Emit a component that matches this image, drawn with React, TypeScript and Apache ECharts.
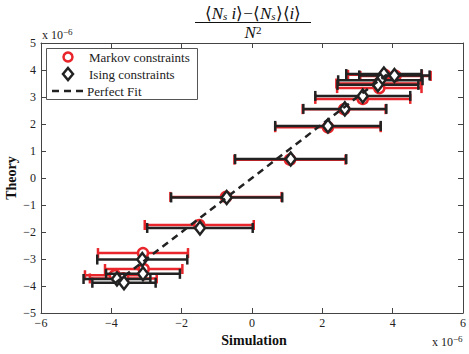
import React, { useEffect, useRef } from "react";
import * as echarts from "echarts";

const markovX = [3.78, 4.08, 3.6, 3.62, 3.15, 2.62, 2.16, 1.08, -0.74, -1.5, -3.1, -3.08, -3.9, -3.66];
const markovY = [3.82, 3.78, 3.5, 3.33, 2.93, 2.55, 1.88, 0.68, -0.7, -1.74, -2.78, -3.37, -3.6, -3.72];
const markovErr = [1.05, 1.0, 1.2, 1.2, 1.35, 1.18, 1.5, 1.58, 1.58, 1.55, 1.28, 1.1, 0.85, 0.95];

const isingX = [3.75, 4.05, 3.65, 3.58, 3.15, 2.64, 2.16, 1.1, -0.72, -1.48, -3.12, -3.1, -3.84, -3.64];
const isingY = [3.85, 3.8, 3.62, 3.45, 3.04, 2.56, 1.93, 0.7, -0.72, -1.85, -3.02, -3.55, -3.74, -3.88];
const isingErr = [1.07, 1.0, 1.2, 1.15, 1.35, 1.18, 1.5, 1.58, 1.58, 1.5, 1.28, 1.05, 0.95, 0.9];

const fitX = [-3.9, 3.9];
const fitY = [-3.9, 3.9];

const RED = "#e8262b";
const BLACK = "#222222";
const FONT = "Liberation Serif";

function errRender(color: string) {
  return (params: any, api: any) => {
    const x = api.value(0);
    const y = api.value(1);
    const e = api.value(2);
    const p1 = api.coord([x - e, y]);
    const p2 = api.coord([x + e, y]);
    const h = 5;
    const st = { stroke: color, lineWidth: 2.5 };
    return {
      type: "group",
      children: [
        { type: "line", shape: { x1: p1[0], y1: p1[1], x2: p2[0], y2: p2[1] }, style: st },
        { type: "line", shape: { x1: p1[0], y1: p1[1] - h, x2: p1[0], y2: p1[1] + h }, style: st },
        { type: "line", shape: { x1: p2[0], y1: p2[1] - h, x2: p2[0], y2: p2[1] + h }, style: st },
      ],
    };
  };
}

const fmt = (v: number) => String(v).replace("-", "\u2212");

export default function App() {
  const ref = useRef<HTMLDivElement>(null);
  useEffect(() => {
    if (!ref.current) return;
    const chart = echarts.init(ref.current, undefined, { renderer: "svg" });
    const markovData = markovX.map((x, i) => [x, markovY[i], markovErr[i]]);
    const isingData = isingX.map((x, i) => [x, isingY[i], isingErr[i]]);
    const fitData = fitX.map((x, i) => [x, fitY[i]]);
    const axisCommon = {
      axisLine: { show: true, onZero: false, lineStyle: { color: "#444", width: 1 } },
      axisTick: { show: true, inside: true, length: 5, lineStyle: { color: "#444" } },
      splitLine: { show: false },
    };
    const labelStyle = { fontFamily: FONT, fontSize: 12, color: "#222" };
    chart.setOption({
      animation: false,
      backgroundColor: "#fff",
      grid: { left: 41, right: 6, top: 43, bottom: 41 },
      xAxis: [
        { type: "value", min: -6, max: 6, interval: 2, position: "bottom", ...axisCommon,
          axisLabel: { ...labelStyle, margin: 4, formatter: fmt } },
        { type: "value", min: -6, max: 6, interval: 2, position: "top", ...axisCommon,
          axisLabel: { show: false } },
      ],
      yAxis: [
        { type: "value", min: -5, max: 5, interval: 1, position: "left", ...axisCommon,
          axisLabel: { ...labelStyle, margin: 5, formatter: fmt } },
        { type: "value", min: -5, max: 5, interval: 1, position: "right", ...axisCommon,
          axisLabel: { show: false } },
      ],
      series: [
        { type: "custom", renderItem: errRender(RED), data: markovData, z: 2 },
        { type: "scatter", data: markovData, symbol: "circle", symbolSize: 10, z: 3,
          itemStyle: { color: "#fff", borderColor: RED, borderWidth: 2.5, opacity: 1 } },
        { type: "custom", renderItem: errRender(BLACK), data: isingData, z: 4 },
        { type: "scatter", data: isingData, symbol: "diamond", symbolSize: [10, 13], z: 5,
          itemStyle: { color: "#fff", borderColor: BLACK, borderWidth: 2.5, opacity: 1 } },
        { type: "line", data: fitData, symbol: "none", z: 6,
          lineStyle: { color: BLACK, width: 2.5, type: [7, 5] } },
      ],
      graphic: [
        // title numerator
        { type: "text", x: 253, y: 13, style: {
            text: "{n|⟨}{i|N}{s|s}{i| i}{n|⟩−⟨}{i|N}{s|s}{n|⟩⟨}{i|i}{n|⟩}",
            align: "center", verticalAlign: "middle",
            rich: {
              n: { fontFamily: FONT, fontSize: 17, fill: "#111", lineHeight: 16 },
              i: { fontFamily: FONT, fontStyle: "italic", fontSize: 17, fill: "#111", lineHeight: 16 },
              s: { fontFamily: FONT, fontStyle: "italic", fontSize: 11, fill: "#111", verticalAlign: "bottom", lineHeight: 16, padding: [6, 0, 0, 0] },
            },
          } },
        { type: "line", shape: { x1: 195, y1: 22.5, x2: 311, y2: 22.5 }, style: { stroke: "#111", lineWidth: 1 } },
        { type: "text", x: 253, y: 32, style: {
            text: "{n|N}{p|2}", align: "center", verticalAlign: "middle",
            rich: {
              n: { fontFamily: FONT, fontStyle: "italic", fontSize: 17, fill: "#111", lineHeight: 16 },
              p: { fontFamily: FONT, fontSize: 11, fill: "#111", verticalAlign: "top", lineHeight: 16 },
            },
          } },
        // exponent labels
        { type: "text", x: 42, y: 27, style: {
            text: "{a|x 10}{b|−6}", rich: {
              a: { fontFamily: FONT, fontSize: 12, fill: "#222", verticalAlign: "bottom", lineHeight: 14 },
              b: { fontFamily: FONT, fontSize: 9, fill: "#222", verticalAlign: "top", lineHeight: 14 },
            } } },
        { type: "text", x: 432, y: 334, style: {
            text: "{a|x 10}{b|−6}", rich: {
              a: { fontFamily: FONT, fontSize: 12, fill: "#222", verticalAlign: "bottom", lineHeight: 14 },
              b: { fontFamily: FONT, fontSize: 9, fill: "#222", verticalAlign: "top", lineHeight: 14 },
            } } },
        // axis names
        { type: "text", x: 254, y: 340, style: { text: "Simulation", fontFamily: FONT, fontWeight: "bold", fontSize: 14, fill: "#111", align: "center", verticalAlign: "middle" } },
        { type: "text", x: 11, y: 178, rotation: Math.PI / 2, style: { text: "Theory", fontFamily: FONT, fontWeight: "bold", fontSize: 14, fill: "#111", align: "center", verticalAlign: "middle" } },
        // legend
        { type: "rect", shape: { x: 46.5, y: 48.5, width: 151, height: 51 }, style: { fill: "#fff", stroke: "#555", lineWidth: 1 }, z: 100 },
        { type: "circle", shape: { cx: 68, cy: 57, r: 4.5 }, style: { fill: "#fff", stroke: RED, lineWidth: 2.5 }, z: 101 },
        { type: "polygon", shape: { points: [[68, 68], [73, 74], [68, 80], [63, 74]] }, style: { fill: "#fff", stroke: BLACK, lineWidth: 2.5 }, z: 101 },
        { type: "line", shape: { x1: 52, y1: 91, x2: 85, y2: 91 }, style: { stroke: BLACK, lineWidth: 2.5, lineDash: [7, 5] }, z: 101 },
        { type: "text", x: 89, y: 57, style: { text: "Markov constraints", fontFamily: FONT, fontSize: 13, fill: "#222", verticalAlign: "middle" }, z: 101 },
        { type: "text", x: 89, y: 74, style: { text: "Ising constraints", fontFamily: FONT, fontSize: 13, fill: "#222", verticalAlign: "middle" }, z: 101 },
        { type: "text", x: 87, y: 91, style: { text: "Perfect Fit", fontFamily: FONT, fontSize: 13, fill: "#222", verticalAlign: "middle" }, z: 101 },
      ],
    });
    return () => chart.dispose();
  }, []);
  return <div ref={ref} style={{ position: "fixed", left: 0, top: 0, width: 469, height: 354 }} />;
}
